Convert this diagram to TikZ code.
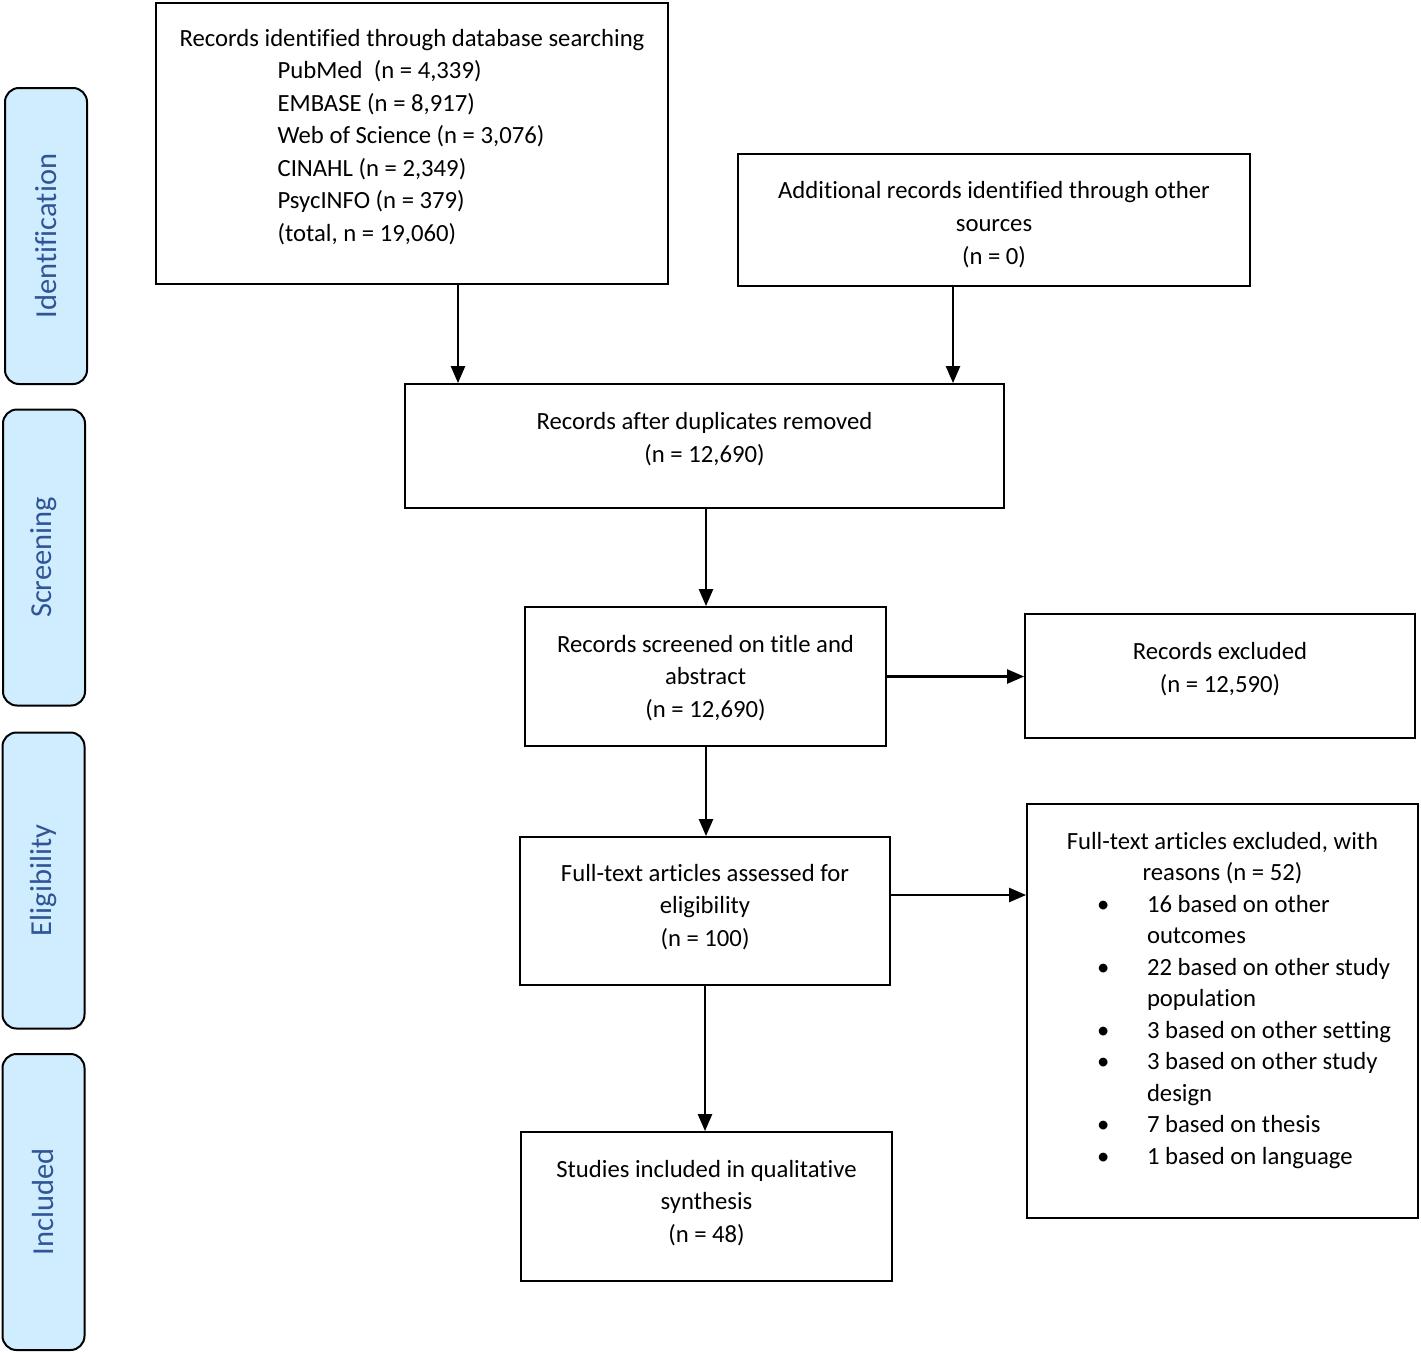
\documentclass[tikz,border=0pt]{standalone}
\usepackage{fontspec}
\setmainfont{Carlito}[RawFeature={-liga}]
\usetikzlibrary{arrows.meta}
\definecolor{stage-fill}{HTML}{D0ECFF}
\definecolor{stage-text}{HTML}{2F5597}
\newcommand{\reason}[1]{\makebox[391pt][l]{\hspace*{70pt}\makebox[50pt][l]{\textbullet}#1}}
\newcommand{\reasoncont}[1]{\makebox[391pt][l]{\hspace*{120pt}#1}}

\begin{document}
\begin{tikzpicture}[x=1pt, y=-1pt,
    font=\fontsize{24.7}{32.5}\selectfont,
    box/.style={draw, line width=1.8pt, align=center, inner sep=0pt, text depth=0pt},
    stage/.style={draw, fill=stage-fill, text=stage-text, rounded corners=14pt,
      line width=2pt, rotate=90, minimum width=296pt, minimum height=82pt,
      font=\fontsize{30.5}{34}\selectfont},
    arr/.style={-{Triangle[length=17pt, width=14pt]}, line width=2.4pt}]
    \useasboundingbox (0,0) rectangle (1421,1352);
    % Stages
    \node[stage] (identification) at (46,236) {Identification};
    \node[stage] (screening) at (44,557.5) {Screening};
    \node[stage] (eligibility) at (43.5,880.5) {Eligibility};
    \node[stage] (included) at (43.5,1202) {Included};
    % Identification
    \node[box, align=left, minimum width=512pt, minimum height=281pt, text height=195pt] (db) at (412,143.5)
      {Records identified through database searching\\
       \hspace*{98pt}PubMed\ \ (n = 4,339)\\
       \hspace*{98pt}EMBASE (n = 8,917)\\
       \hspace*{98pt}Web of Science (n = 3,076)\\
       \hspace*{98pt}CINAHL (n = 2,349)\\
       \hspace*{98pt}PsycINFO (n = 379)\\
       \hspace*{98pt}(total, n = 19,060)};
    \node[box, minimum width=512pt, minimum height=132pt, text height=88pt,
      font=\fontsize{24.7}{33}\selectfont] (other) at (994,220)
      {Additional records identified through other\\ sources\\ (n = 0)};
    % Screening
    \node[box, minimum width=599pt, minimum height=124pt, text height=32pt] (dup) at (704.5,446)
      {Records after duplicates removed\\ (n = 12,690)};
    \node[box, minimum width=361pt, minimum height=139pt, text height=81pt] (scr) at (705.5,676.5)
      {Records screened on title and\\ abstract\\ (n = 12,690)};
    \node[box, minimum width=390pt, minimum height=124pt, text height=32pt] (excl) at (1220,676)
      {Records excluded\\ (n = 12,590)};
    % Eligibility
    \node[box, minimum width=370pt, minimum height=148pt, text height=70pt] (full) at (705,911)
      {Full-text articles assessed for\\ eligibility\\ (n = 100)};
    \node[box, minimum width=391pt, minimum height=414pt, text height=306pt,
      font=\fontsize{24.7}{31.5}\selectfont] (why) at (1222.5,1011)
      {Full-text articles excluded, with\\ reasons (n = 52)\\
       \reason{16 based on other}\\ \reasoncont{outcomes}\\
       \reason{22 based on other study}\\ \reasoncont{population}\\
       \reason{3 based on other setting}\\
       \reason{3 based on other study}\\ \reasoncont{design}\\
       \reason{7 based on thesis}\\
       \reason{1 based on language}};
    % Included
    \node[box, minimum width=371pt, minimum height=149pt, text height=71pt] (incl) at (706.5,1206.5)
      {Studies included in qualitative\\ synthesis\\ (n = 48)};
    % Arrows
    \draw[arr] ([xshift=46pt]db.south) -- ([xshift=46pt]db.south |- dup.north);
    \draw[arr] ([xshift=-41pt]other.south) -- ([xshift=-41pt]other.south |- dup.north);
    \draw[arr] ([xshift=1.5pt]dup.south) -- ([xshift=1.5pt]dup.south |- scr.north);
    \draw[arr] (scr.east) -- (scr.east -| excl.west);
    \draw[arr] ([xshift=0.5pt]scr.south) -- ([xshift=0.5pt]scr.south |- full.north);
    \draw[arr] ([yshift=16pt]full.east) -- ([yshift=16pt]full.east -| why.west);
    \draw[arr] (full.south) -- (full.south |- incl.north);
\end{tikzpicture}
\end{document}
